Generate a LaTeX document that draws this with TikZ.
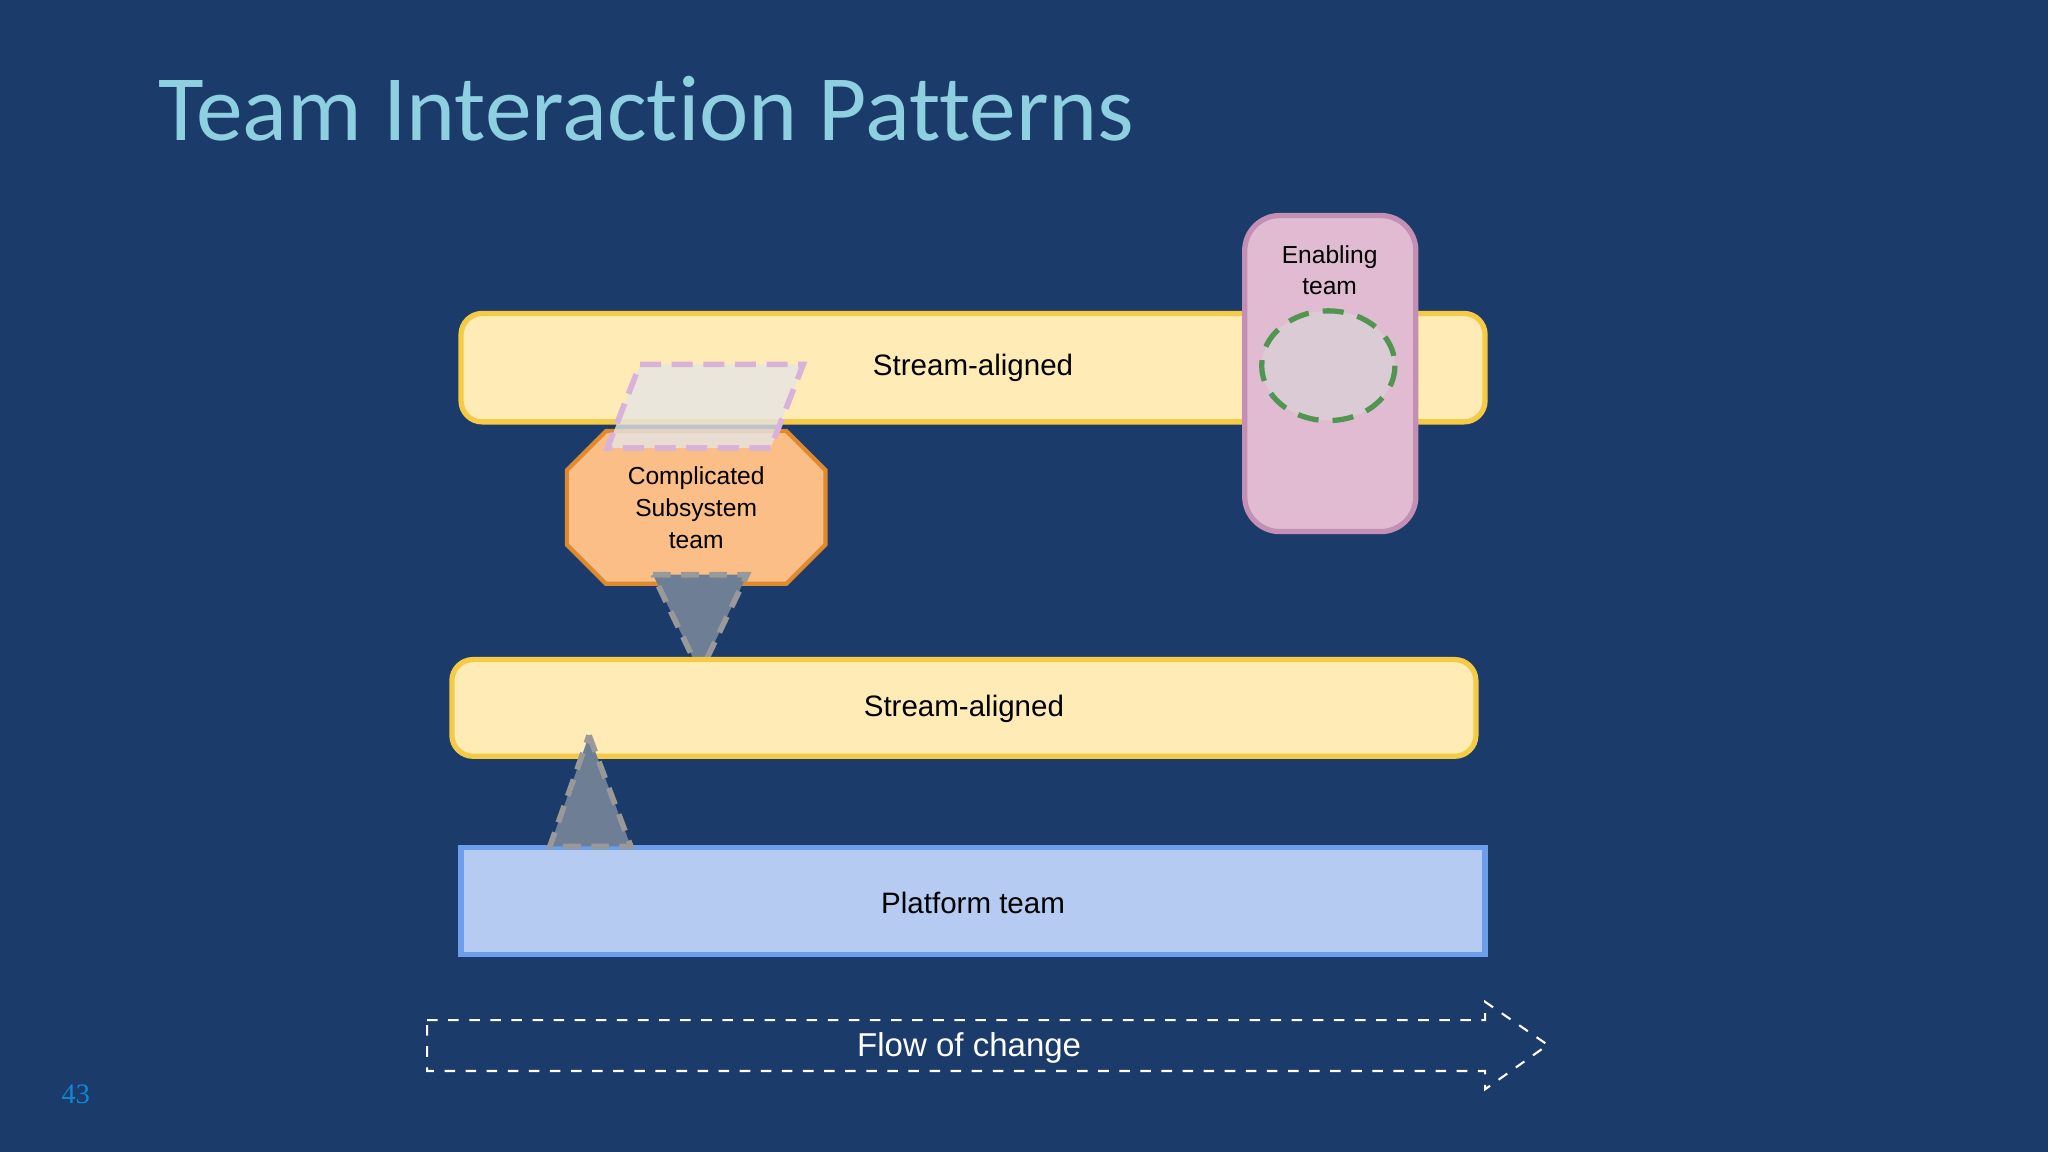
\documentclass[tikz,border=0pt]{standalone}
\usepackage{fontspec}
\setmainfont{Liberation Sans}
\newfontfamily\titlefont[Ligatures={NoCommon}]{Carlito}
\usetikzlibrary{shapes.geometric}
\definecolor{bg}{HTML}{1B3B6A}
\definecolor{ttl}{HTML}{8ECFE0}
\definecolor{sfill}{HTML}{FFEBB5}
\definecolor{sdraw}{HTML}{F5CB45}
\definecolor{efill}{HTML}{E0BBD2}
\definecolor{edraw}{HTML}{C48FB4}
\definecolor{pfill}{HTML}{B5CBF1}
\definecolor{pdraw}{HTML}{6D9EEB}
\definecolor{ofill}{HTML}{FBBE87}
\definecolor{odraw}{HTML}{E0892D}
\definecolor{tfill}{HTML}{6E7E94}
\begin{document}
\begin{tikzpicture}[x=0.013061cm,y=-0.013061cm,
 lbl/.style={font=\fontsize{8.4pt}{10pt}\selectfont,text=black,align=center},
 band/.style={rounded corners=6,line width=1.5pt,draw=sdraw,fill=sfill},
 tri/.style={fill=tfill,draw=gray!80,dashed,line width=1.6pt,dash pattern=on 5pt off 3pt}]
\fill[bg] (0,0) rectangle (1568,882);
\useasboundingbox (0,0) rectangle (1568,882);
\node[anchor=west,text=ttl,font=\titlefont\fontsize{26.6pt}{30pt}\selectfont] (title) at (112,83) {Team Interaction Patterns};
% stream aligned 1
\draw[band] (353,240) rectangle (1137,323);
\node[lbl] (s1) at (745,282) {Stream-aligned};
% enabling
\draw[rounded corners=10,line width=1.5pt,draw=edraw,fill=efill] (953,165) rectangle (1084,407);
\node[lbl,font=\fontsize{7pt}{8.8pt}\selectfont] (en) at (1018,207) {Enabling\\team};
\draw[fill=gray!30!efill!60!white,draw=green!30!gray!90!black,line width=1.5pt,dash pattern=on 6pt off 4pt] (1017,280) ellipse [x radius=51,y radius=42];
% octagon
\draw[fill=ofill,draw=odraw,line width=1.2pt] (464,330) -- (602,330) -- (632,360) -- (632,417) -- (602,447) -- (464,447) -- (434,417) -- (434,360) -- cycle;
\node[lbl,font=\fontsize{7pt}{9.1pt}\selectfont] (cs) at (533,389) {Complicated\\Subsystem\\team};
% parallelogram
\draw[fill=gray!20!white,fill opacity=0.8,draw=violet!30!white,line width=1.6pt,dash pattern=on 6pt off 3pt] (490,279) -- (615,279) -- (590,343) -- (465,343) -- cycle;
% down triangle
\draw[tri] (500,440) -- (572,440) -- (536,515) -- cycle;
% stream aligned 2
\draw[band] (346,505) rectangle (1130,579);
\node[lbl] (s2) at (738,543) {Stream-aligned};
% platform
\draw[fill=pfill,draw=pdraw,line width=1.5pt] (353,649) rectangle (1137,731);
\node[lbl] (pl) at (745,691) {Platform team};
% up triangle
\draw[tri] (451,563) -- (483,648) -- (421,648) -- cycle;
% flow arrow
\draw[white,dashed,line width=0.6pt] (327,781) -- (1137,781) -- (1137,767) -- (1185,800) -- (1137,834) -- (1137,820) -- (327,820) -- cycle;
\node[text=white,font=\fontsize{9.4pt}{11pt}\selectfont] (fl) at (742,802) {Flow of change};
\node[text=cyan!70!blue,font=\fontspec{Liberation Serif}\fontsize{8pt}{9pt}\selectfont] (pg) at (58,838) {43};
\end{tikzpicture}
\end{document}
